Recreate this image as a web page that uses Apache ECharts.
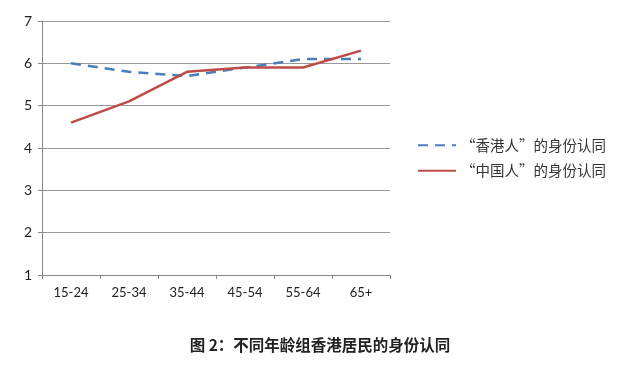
<!DOCTYPE html>
<html><head><meta charset="utf-8">
<script src="https://cdn.jsdelivr.net/npm/echarts@6/dist/echarts.min.js"></script>
<style>html,body{margin:0;padding:0;background:#fff}#c{width:640px;height:373px}</style>
</head><body><div id="c"></div>
<script>
const categories = ['15-24','25-34','35-44','45-54','55-64','65+'];
const hkValues = [6.0, 5.8, 5.7, 5.9, 6.1, 6.1];
const cnValues = [4.6, 5.1, 5.8, 5.9, 5.9, 6.3];
const seriesNames = ['“香港人”的身份认同','“中国人”的身份认同'];
const titleText = '图 2：不同年龄组香港居民的身份认同';

const chart = echarts.init(document.getElementById('c'), null, {renderer:'canvas'});
chart.setOption({
  animation:false,
  backgroundColor:'#fff',
  title:{text:titleText,left:'center',top:332,textStyle:{fontFamily:'Noto Sans CJK SC',fontSize:15.5,fontWeight:'bold',color:'#222'}},
  grid:{left:42,right:250,top:21,bottom:98,containLabel:false},
  legend:{orient:'vertical',left:412,top:133,itemWidth:38,itemHeight:14,itemGap:11,
    itemStyle:{opacity:0},
    textStyle:{fontFamily:'Noto Sans CJK SC',fontSize:14.5,color:'#333'},
    data:seriesNames},
  xAxis:{type:'category',data:categories,boundaryGap:true,
    axisLine:{lineStyle:{color:'#888',width:1}},
    axisTick:{show:true,length:4,lineStyle:{color:'#888'}},
    axisLabel:{fontFamily:'Lato',fontSize:13,color:'#222',margin:11}},
  yAxis:{type:'value',min:1,max:7,interval:1,
    axisLine:{show:true,lineStyle:{color:'#888',width:1}},
    axisTick:{show:true,length:4,lineStyle:{color:'#888'}},
    splitLine:{lineStyle:{color:'#999',width:1}},
    axisLabel:{fontFamily:'Lato',fontSize:14,color:'#222',margin:10}},
  series:[
    {name:seriesNames[0],type:'line',data:hkValues,symbol:'none',
     lineStyle:{color:'#4a7ebb',width:2.5,type:[10,7]},itemStyle:{color:'#4a7ebb'}},
    {name:seriesNames[1],type:'line',data:cnValues,symbol:'none',
     lineStyle:{color:'#be4b48',width:2.5},itemStyle:{color:'#be4b48'}}
  ]
});
</script></body></html>
